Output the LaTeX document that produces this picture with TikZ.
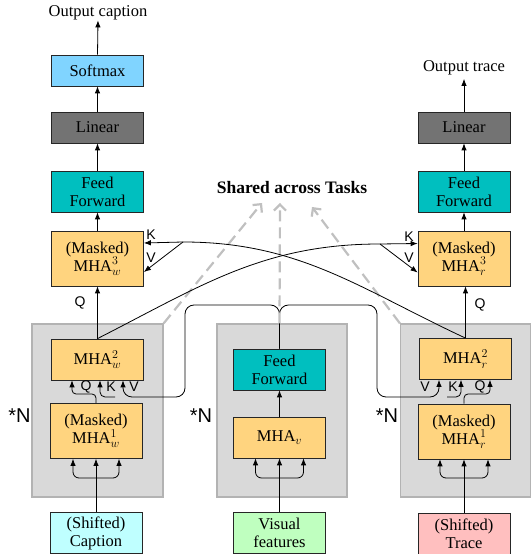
\documentclass[tikz,border=0pt]{standalone}
\usepackage{fontspec}
\setmainfont{Liberation Serif}
\newfontfamily\labfont{Liberation Sans}
\usetikzlibrary{arrows.meta,calc}
\definecolor{cSoft}{HTML}{80D4FF}
\definecolor{cLin}{HTML}{737373}
\definecolor{cFF}{HTML}{00BFBF}
\definecolor{cMHA}{HTML}{FFD47F}
\definecolor{cCap}{HTML}{BFFFFF}
\definecolor{cVis}{HTML}{BFFFBF}
\definecolor{cTr}{HTML}{FFBFBF}
\definecolor{cGrp}{HTML}{D9D9D9}
\definecolor{cGrpB}{HTML}{B3B3B3}
\definecolor{cShare}{HTML}{C0C0C0}
\DeclareMathSizes{16.5}{16.5}{12.5}{10}
\begin{document}
\begin{tikzpicture}[x=1pt,y=1pt,
  box/.style={draw=black!85, line width=0.8pt, minimum width=92pt, align=center,
    inner sep=0pt, font=\fontsize{16.5}{18}\selectfont},
  grp/.style={draw=cGrpB, fill=cGrp, line width=1.2pt, inner sep=0pt},
  arr/.style={line width=0.8pt, -{Latex[length=7pt,width=5.5pt]}},
  ln/.style={line width=0.8pt},
  lab/.style={font=\labfont\fontsize{14}{14}\selectfont, inner sep=0pt},
  nlab/.style={font=\labfont\fontsize{20}{20}\selectfont, inner sep=0pt},
  shared/.style={draw=cShare, line width=2.2pt, dash pattern=on 11pt off 6pt,
    -{Straight Barb[length=6pt,width=12pt]}}
]
\useasboundingbox (0,0) rectangle (531,554);

% group boxes
\node[grp, minimum width=131pt, minimum height=173pt] (gL) at (97.5,143.5) {};
\node[grp, minimum width=130pt, minimum height=173pt] (gM) at (282,143.5) {};
\node[grp, minimum width=130pt, minimum height=173pt] (gR) at (465.5,143.5) {};

% left column
\node[box, fill=cSoft, minimum height=31pt] (soft) at (97.5,483.5) {Softmax};
\node[box, fill=cLin, minimum height=31pt] (linL) at (97.5,426.5) {Linear};
\node[box, fill=cFF, minimum height=41pt] (ffL) at (97.5,362.5) {Feed\\Forward};
\node[box, fill=cMHA, minimum height=55pt] (m3w) at (97.5,295.5) {(Masked)\\MHA$^{3}_{w}$};
\node[box, fill=cMHA, minimum height=41pt] (m2w) at (97.5,194.5) {MHA$^{2}_{w}$};
\node[box, fill=cMHA, minimum height=55pt] (m1w) at (96,123) {(Masked)\\MHA$^{1}_{w}$};
\node[box, fill=cCap, minimum height=41pt] (cap) at (96,21) {(Shifted)\\Caption};
\node[inner sep=0pt, font=\fontsize{16.5}{18}\selectfont] (outc) at (98,541) {Output caption};

% middle column
\node[box, fill=cFF, minimum height=41pt] (ffm) at (279.5,184.5) {Feed\\Forward};
\node[box, fill=cMHA, minimum height=41pt] (mhav) at (279.5,116.5) {MHA$_{v}$};
\node[box, fill=cVis, minimum height=41pt] (vis) at (279.5,21) {Visual\\features};

% right column
\node[box, fill=cLin, minimum height=31pt] (linR) at (464,426.5) {Linear};
\node[box, fill=cFF, minimum height=41pt] (ffR) at (464,362.5) {Feed\\Forward};
\node[box, fill=cMHA, minimum height=55pt] (m3r) at (464,295.5) {(Masked)\\MHA$^{3}_{r}$};
\node[box, fill=cMHA, minimum height=41pt] (m2r) at (465.5,195) {MHA$^{2}_{r}$};
\node[box, fill=cMHA, minimum height=55pt] (m1r) at (464,122.5) {(Masked)\\MHA$^{1}_{r}$};
\node[box, fill=cTr, minimum height=41pt] (tr) at (464,20.5) {(Shifted)\\Trace};
\node[inner sep=0pt, font=\fontsize{16.5}{18}\selectfont] (outt) at (464,486.5) {Output trace};

% *N labels
\node[nlab] (nL) at (19.5,138) {*N};
\node[nlab] (nM) at (201,138) {*N};
\node[nlab] (nR) at (387,138) {*N};

% vertical stacks
\draw[arr] (soft.north) -- (outc.south);
\draw[arr] (linL.north) -- (soft.south);
\draw[arr] (ffL.north) -- (linL.south);
\draw[arr] (m3w.north) -- (ffL.south);
\draw[arr] (m2w.north) -- (m3w.south);
\node[lab] (qL) at (80,251) {Q};
\draw[arr] (linR.north) -- ([yshift=-4pt]outt.south);
\draw[arr] (ffR.north) -- (linR.south);
\draw[arr] (m3r.north) -- (ffR.south);
\draw[arr] (m2r.north) -- (m3r.south -| m2r.north);
\node[lab] (qR) at (480,249) {Q};
\draw[arr] (mhav.north) -- (ffm.south);

% input forks
\foreach \src/\dst/\dx in {cap/m1w/23, vis/mhav/24, tr/m1r/24}{
  \draw[arr] (\src.north) -- (\dst.south -| \src.north);
  \draw[arr, rounded corners=6pt] (\src.north |- 0,76) -- ++(-\dx,0) -- ([xshift=-\dx pt]\dst.south -| \src.north);
  \draw[arr, rounded corners=6pt] (\src.north |- 0,76) -- ++(\dx,0) -- ([xshift=\dx pt]\dst.south -| \src.north);
}

% coordinates for MHA2 inputs
\coordinate (m2wQ) at ([xshift=-25.5pt]m2w.south);
\coordinate (m2wK) at ([xshift=2.5pt]m2w.south);
\coordinate (m2wV) at ([xshift=25.5pt]m2w.south);
\coordinate (m2rV) at ([xshift=-26.5pt]m2r.south);
\coordinate (m2rK) at ([xshift=-4.5pt]m2r.south);
\coordinate (m2rQ) at ([xshift=24.5pt]m2r.south);
\coordinate (topL) at (185,249);
\coordinate (botL) at (185,157);
\coordinate (topR) at (377,249);
\coordinate (botR) at (377,157);

% Q paths from MHA1
\draw[arr, rounded corners=4pt] (m1w.north) -- (m1w.north |- 0,160) -- (m2wQ |- 0,160) -- (m2wQ);
\draw[arr, rounded corners=4pt] (m1r.north) -- (m1r.north |- 0,160) -- (m2rQ |- 0,160) -- (m2rQ);

% K,V from shared feed forward
\draw[arr, rounded corners=9pt] (ffm.north) |- (topL) -- (botL) -- (m2wV |- botL) -- (m2wV);
\draw[arr, rounded corners=5pt] ([xshift=-8pt]m2wV |- botL) -- (m2wK |- botL) -- (m2wK);
\draw[arr, rounded corners=9pt] (ffm.north) |- (topR) -- (botR) -- (m2rV |- botR) -- (m2rV);
\draw[arr, rounded corners=5pt] ([xshift=8pt]m2rV |- botR) -- (m2rK |- botR) -- (m2rK);

\node[lab] (lq1) at (86,167) {Q};
\node[lab] (lk1) at (111,167) {K};
\node[lab] (lv1) at (134,167) {V};
\node[lab] (rv1) at (425,167) {V};
\node[lab] (rk1) at (453,167) {K};
\node[lab] (rq1) at (480,167) {Q};

% shared arrows
\node[font=\bfseries\fontsize{17.5}{18}\selectfont, inner sep=0pt] (shared) at (292,366) {Shared across Tasks};
\coordinate (tipL) at (262,351);
\coordinate (tipM) at (280,351);
\coordinate (tipR) at (312,347);
\draw[shared] (gL.north east) -- (tipL);
\draw[shared] (gM.north -| ffm.north) -- (tipM);
\draw[shared] (gR.north west) -- (tipR);

% cross-task K,V
\coordinate (sL) at (183,312);
\coordinate (sR) at (380,310);
\draw[ln] (m2w.north) to[out=27,in=180] (sR);
\draw[arr] (sR) -- ([yshift=15pt]m3r.west);
\draw[arr] (sR) -- ([yshift=-14pt]m3r.west);
\draw[ln] (m2r.north) to[out=155,in=0] (sL);
\draw[arr] (sL) -- ([yshift=15.5pt]m3w.east);
\draw[arr] (sL) -- ([yshift=-13.5pt]m3w.east);
\node[lab] (kL3) at (151,319.5) {K};
\node[lab] (vL3) at (151,296) {V};
\node[lab] (kR3) at (409,317.5) {K};
\node[lab] (vR3) at (409,296) {V};
\end{tikzpicture}
\end{document}
